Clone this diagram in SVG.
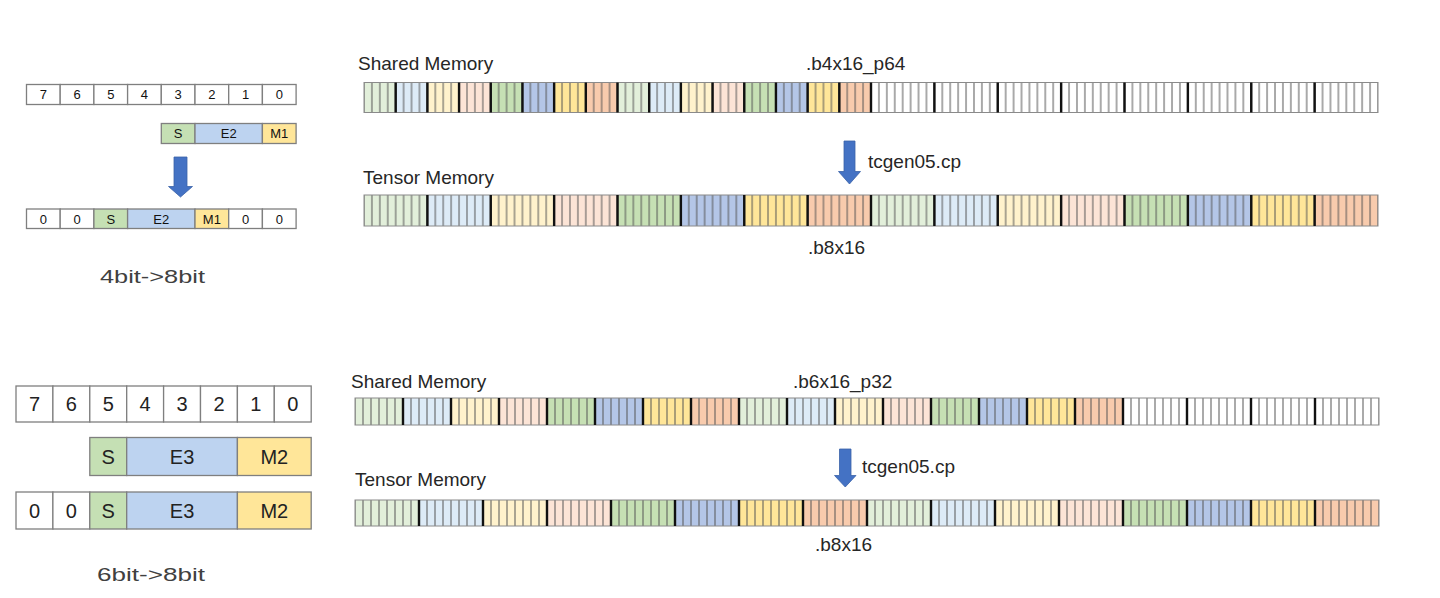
<svg xmlns="http://www.w3.org/2000/svg" width="1440" height="598" viewBox="0 0 1440 598">
<style>
.c1{fill:#E2EFDA}.c2{fill:#DDEBF7}.c3{fill:#FFF2CC}.c4{fill:#FCE4D6}.c5{fill:#C6E0B4}.c6{fill:#B4C6E7}.c7{fill:#FFE699}.c8{fill:#F8CBAD}.cw{fill:#FFFFFF}
.border{fill:none;stroke:#8a8a8a;stroke-width:1}
.thick{fill:none;stroke:#111;stroke-width:2.4}
.lbl{font-family:"Liberation Sans",Arial,sans-serif;font-size:19px;fill:#262626}
.cap{font-family:"Liberation Sans",Arial,sans-serif;font-size:19px;fill:#404040}
.bx{stroke:#7f7f7f;stroke-width:1.3}
.d1{font-family:"Liberation Sans",Arial,sans-serif;font-size:13px;fill:#111;text-anchor:middle}
.d2{font-family:"Liberation Sans",Arial,sans-serif;font-size:20px;fill:#222;text-anchor:middle}
.arrow{fill:#4472C4;stroke:#3a62a8;stroke-width:0.8}
</style>
<defs>
<pattern id="pTop" patternUnits="userSpaceOnUse" x="360.0390625" y="0" width="7.921875" height="598"><rect x="3.4609375" y="0" width="1" height="598" fill="#555"/></pattern>
<pattern id="pBot" patternUnits="userSpaceOnUse" x="351" y="0" width="8" height="598"><rect x="3.5" y="0" width="1" height="598" fill="#555"/></pattern>
</defs>
<rect width="1440" height="598" fill="#fff"/>

<g id="bits4">
<g>
<rect class="bx" x="26.5" y="84.5" width="33.7" height="20" fill="#fff"/>
<rect class="bx" x="60.2" y="84.5" width="33.7" height="20" fill="#fff"/>
<rect class="bx" x="93.9" y="84.5" width="33.7" height="20" fill="#fff"/>
<rect class="bx" x="127.6" y="84.5" width="33.7" height="20" fill="#fff"/>
<rect class="bx" x="161.3" y="84.5" width="33.7" height="20" fill="#fff"/>
<rect class="bx" x="195" y="84.5" width="33.7" height="20" fill="#fff"/>
<rect class="bx" x="228.7" y="84.5" width="33.7" height="20" fill="#fff"/>
<rect class="bx" x="262.4" y="84.5" width="33.7" height="20" fill="#fff"/>
<text class="d1" x="43.35" y="99">7</text><text class="d1" x="77.05" y="99">6</text><text class="d1" x="110.75" y="99">5</text><text class="d1" x="144.45" y="99">4</text><text class="d1" x="178.15" y="99">3</text><text class="d1" x="211.85" y="99">2</text><text class="d1" x="245.55" y="99">1</text><text class="d1" x="279.25" y="99">0</text>
</g>
<g>
<rect class="bx" x="161.3" y="123.5" width="33.7" height="20" fill="#C5E0B4"/>
<rect class="bx" x="195" y="123.5" width="67.4" height="20" fill="#BDD3F0"/>
<rect class="bx" x="262.4" y="123.5" width="33.7" height="20" fill="#FFE699"/>
<text class="d1" x="178.15" y="138">S</text><text class="d1" x="228.7" y="138">E2</text><text class="d1" x="279.25" y="138">M1</text>
</g>
<g>
<rect class="bx" x="26.5" y="209" width="33.7" height="19.5" fill="#fff"/>
<rect class="bx" x="60.2" y="209" width="33.7" height="19.5" fill="#fff"/>
<rect class="bx" x="93.9" y="209" width="33.7" height="19.5" fill="#C5E0B4"/>
<rect class="bx" x="127.6" y="209" width="67.4" height="19.5" fill="#BDD3F0"/>
<rect class="bx" x="195" y="209" width="33.7" height="19.5" fill="#FFE699"/>
<rect class="bx" x="228.7" y="209" width="33.7" height="19.5" fill="#fff"/>
<rect class="bx" x="262.4" y="209" width="33.7" height="19.5" fill="#fff"/>
<text class="d1" x="43.35" y="223.5">0</text><text class="d1" x="77.05" y="223.5">0</text><text class="d1" x="110.75" y="223.5">S</text><text class="d1" x="161.3" y="223.5">E2</text><text class="d1" x="211.85" y="223.5">M1</text><text class="d1" x="245.55" y="223.5">0</text><text class="d1" x="279.25" y="223.5">0</text>
</g>
<text class="cap" x="100" y="283" textLength="105" lengthAdjust="spacingAndGlyphs">4bit-&gt;8bit</text>
</g>

<g id="bits6">
<g>
<rect class="bx" x="16" y="386" width="36.9" height="36" fill="#fff"/>
<rect class="bx" x="52.9" y="386" width="36.9" height="36" fill="#fff"/>
<rect class="bx" x="89.8" y="386" width="36.9" height="36" fill="#fff"/>
<rect class="bx" x="126.7" y="386" width="36.9" height="36" fill="#fff"/>
<rect class="bx" x="163.6" y="386" width="36.9" height="36" fill="#fff"/>
<rect class="bx" x="200.5" y="386" width="36.9" height="36" fill="#fff"/>
<rect class="bx" x="237.4" y="386" width="36.9" height="36" fill="#fff"/>
<rect class="bx" x="274.3" y="386" width="36.9" height="36" fill="#fff"/>
<text class="d2" x="34.45" y="411">7</text><text class="d2" x="71.35" y="411">6</text><text class="d2" x="108.25" y="411">5</text><text class="d2" x="145.15" y="411">4</text><text class="d2" x="182.05" y="411">3</text><text class="d2" x="218.95" y="411">2</text><text class="d2" x="255.85" y="411">1</text><text class="d2" x="292.75" y="411">0</text>
</g>
<g>
<rect class="bx" x="89.8" y="437.5" width="36.9" height="38" fill="#C5E0B4"/>
<rect class="bx" x="126.7" y="437.5" width="110.7" height="38" fill="#BDD3F0"/>
<rect class="bx" x="237.4" y="437.5" width="73.8" height="38" fill="#FFE699"/>
<text class="d2" x="108.25" y="463.5">S</text><text class="d2" x="182.05" y="463.5">E3</text><text class="d2" x="274.3" y="463.5">M2</text>
</g>
<g>
<rect class="bx" x="16" y="492" width="36.9" height="37" fill="#fff"/>
<rect class="bx" x="52.9" y="492" width="36.9" height="37" fill="#fff"/>
<rect class="bx" x="89.8" y="492" width="36.9" height="37" fill="#C5E0B4"/>
<rect class="bx" x="126.7" y="492" width="110.7" height="37" fill="#BDD3F0"/>
<rect class="bx" x="237.4" y="492" width="73.8" height="37" fill="#FFE699"/>
<text class="d2" x="34.45" y="517.5">0</text><text class="d2" x="71.35" y="517.5">0</text><text class="d2" x="108.25" y="517.5">S</text><text class="d2" x="182.05" y="517.5">E3</text><text class="d2" x="274.3" y="517.5">M2</text>
</g>
<text class="cap" x="97" y="581" textLength="108" lengthAdjust="spacingAndGlyphs">6bit-&gt;8bit</text>
</g>

<g id="smem-top">
<text class="lbl" x="358" y="70">Shared Memory</text>
<text class="lbl" x="806" y="70">.b4x16_p64</text>
<rect class="c1" x="364" y="82.5" width="31.6875" height="30"/>
<rect class="c2" x="395.6875" y="82.5" width="31.6875" height="30"/>
<rect class="c3" x="427.375" y="82.5" width="31.6875" height="30"/>
<rect class="c4" x="459.0625" y="82.5" width="31.6875" height="30"/>
<rect class="c5" x="490.75" y="82.5" width="31.6875" height="30"/>
<rect class="c6" x="522.4375" y="82.5" width="31.6875" height="30"/>
<rect class="c7" x="554.125" y="82.5" width="31.6875" height="30"/>
<rect class="c8" x="585.8125" y="82.5" width="31.6875" height="30"/>
<rect class="c1" x="617.5" y="82.5" width="31.6875" height="30"/>
<rect class="c2" x="649.1875" y="82.5" width="31.6875" height="30"/>
<rect class="c3" x="680.875" y="82.5" width="31.6875" height="30"/>
<rect class="c4" x="712.5625" y="82.5" width="31.6875" height="30"/>
<rect class="c5" x="744.25" y="82.5" width="31.6875" height="30"/>
<rect class="c6" x="775.9375" y="82.5" width="31.6875" height="30"/>
<rect class="c7" x="807.625" y="82.5" width="31.6875" height="30"/>
<rect class="c8" x="839.3125" y="82.5" width="31.6875" height="30"/>
<rect class="cw" x="871" y="82.5" width="507" height="30"/>
<rect x="364" y="82.5" width="1014" height="30" fill="url(#pTop)"/>
<rect class="border" x="364" y="82.5" width="1014" height="30"/>
<path class="thick" d="M395.69 82.5V112.5M427.38 82.5V112.5M459.06 82.5V112.5M490.75 82.5V112.5M522.44 82.5V112.5M554.13 82.5V112.5M585.81 82.5V112.5M617.5 82.5V112.5M649.19 82.5V112.5M680.88 82.5V112.5M712.56 82.5V112.5M744.25 82.5V112.5M775.94 82.5V112.5M807.63 82.5V112.5M839.31 82.5V112.5M871 82.5V112.5M934.38 82.5V112.5M997.75 82.5V112.5M1061.13 82.5V112.5M1124.5 82.5V112.5M1187.88 82.5V112.5M1251.25 82.5V112.5M1314.63 82.5V112.5"/>
</g>

<g id="tmem-top">
<text class="lbl" x="363" y="184">Tensor Memory</text>
<text class="lbl" x="808" y="254">.b8x16</text>
<rect class="c1" x="364" y="195" width="63.375" height="31"/>
<rect class="c2" x="427.375" y="195" width="63.375" height="31"/>
<rect class="c3" x="490.75" y="195" width="63.375" height="31"/>
<rect class="c4" x="554.125" y="195" width="63.375" height="31"/>
<rect class="c5" x="617.5" y="195" width="63.375" height="31"/>
<rect class="c6" x="680.875" y="195" width="63.375" height="31"/>
<rect class="c7" x="744.25" y="195" width="63.375" height="31"/>
<rect class="c8" x="807.625" y="195" width="63.375" height="31"/>
<rect class="c1" x="871" y="195" width="63.375" height="31"/>
<rect class="c2" x="934.375" y="195" width="63.375" height="31"/>
<rect class="c3" x="997.75" y="195" width="63.375" height="31"/>
<rect class="c4" x="1061.125" y="195" width="63.375" height="31"/>
<rect class="c5" x="1124.5" y="195" width="63.375" height="31"/>
<rect class="c6" x="1187.875" y="195" width="63.375" height="31"/>
<rect class="c7" x="1251.25" y="195" width="63.375" height="31"/>
<rect class="c8" x="1314.625" y="195" width="63.375" height="31"/>
<rect x="364" y="195" width="1014" height="31" fill="url(#pTop)"/>
<rect class="border" x="364" y="195" width="1014" height="31"/>
<path class="thick" d="M427.38 195V226M490.75 195V226M554.13 195V226M617.5 195V226M680.88 195V226M744.25 195V226M807.63 195V226M871 195V226M934.38 195V226M997.75 195V226M1061.13 195V226M1124.5 195V226M1187.88 195V226M1251.25 195V226M1314.63 195V226"/>
</g>

<g id="smem-bot">
<text class="lbl" x="351" y="388">Shared Memory</text>
<text class="lbl" x="793" y="388">.b6x16_p32</text>
<rect class="c1" x="355" y="398" width="48" height="27"/>
<rect class="c2" x="403" y="398" width="48" height="27"/>
<rect class="c3" x="451" y="398" width="48" height="27"/>
<rect class="c4" x="499" y="398" width="48" height="27"/>
<rect class="c5" x="547" y="398" width="48" height="27"/>
<rect class="c6" x="595" y="398" width="48" height="27"/>
<rect class="c7" x="643" y="398" width="48" height="27"/>
<rect class="c8" x="691" y="398" width="48" height="27"/>
<rect class="c1" x="739" y="398" width="48" height="27"/>
<rect class="c2" x="787" y="398" width="48" height="27"/>
<rect class="c3" x="835" y="398" width="48" height="27"/>
<rect class="c4" x="883" y="398" width="48" height="27"/>
<rect class="c5" x="931" y="398" width="48" height="27"/>
<rect class="c6" x="979" y="398" width="48" height="27"/>
<rect class="c7" x="1027" y="398" width="48" height="27"/>
<rect class="c8" x="1075" y="398" width="48" height="27"/>
<rect class="cw" x="1123" y="398" width="256" height="27"/>
<rect x="355" y="398" width="1024" height="27" fill="url(#pBot)"/>
<rect class="border" x="355" y="398" width="1024" height="27"/>
<path class="thick" d="M403 398V425M451 398V425M499 398V425M547 398V425M595 398V425M643 398V425M691 398V425M739 398V425M787 398V425M835 398V425M883 398V425M931 398V425M979 398V425M1027 398V425M1075 398V425M1123 398V425M1187 398V425M1251 398V425M1315 398V425"/>
</g>

<g id="tmem-bot">
<text class="lbl" x="355" y="486">Tensor Memory</text>
<text class="lbl" x="815" y="551">.b8x16</text>
<rect class="c1" x="355" y="500" width="64" height="26"/>
<rect class="c2" x="419" y="500" width="64" height="26"/>
<rect class="c3" x="483" y="500" width="64" height="26"/>
<rect class="c4" x="547" y="500" width="64" height="26"/>
<rect class="c5" x="611" y="500" width="64" height="26"/>
<rect class="c6" x="675" y="500" width="64" height="26"/>
<rect class="c7" x="739" y="500" width="64" height="26"/>
<rect class="c8" x="803" y="500" width="64" height="26"/>
<rect class="c1" x="867" y="500" width="64" height="26"/>
<rect class="c2" x="931" y="500" width="64" height="26"/>
<rect class="c3" x="995" y="500" width="64" height="26"/>
<rect class="c4" x="1059" y="500" width="64" height="26"/>
<rect class="c5" x="1123" y="500" width="64" height="26"/>
<rect class="c6" x="1187" y="500" width="64" height="26"/>
<rect class="c7" x="1251" y="500" width="64" height="26"/>
<rect class="c8" x="1315" y="500" width="64" height="26"/>
<rect x="355" y="500" width="1024" height="26" fill="url(#pBot)"/>
<rect class="border" x="355" y="500" width="1024" height="26"/>
<path class="thick" d="M419 500V526M483 500V526M547 500V526M611 500V526M675 500V526M739 500V526M803 500V526M867 500V526M931 500V526M995 500V526M1059 500V526M1123 500V526M1187 500V526M1251 500V526M1315 500V526"/>
</g>

<g id="connectors">
<polygon class="arrow" points="174,157 187,157 187,186.5 192.5,186.5 180.5,197 168.5,186.5 174,186.5"/>
<polygon class="arrow" points="844,141 855,141 855,171.5 860.5,171.5 849.5,184 838.5,171.5 844,171.5"/>
<text class="lbl" x="868" y="168">tcgen05.cp</text>
<polygon class="arrow" points="839.5,449 851,449 851,475.5 856,475.5 845.25,487 834.5,475.5 839.5,475.5"/>
<text class="lbl" x="862" y="473">tcgen05.cp</text>
</g>
</svg>
